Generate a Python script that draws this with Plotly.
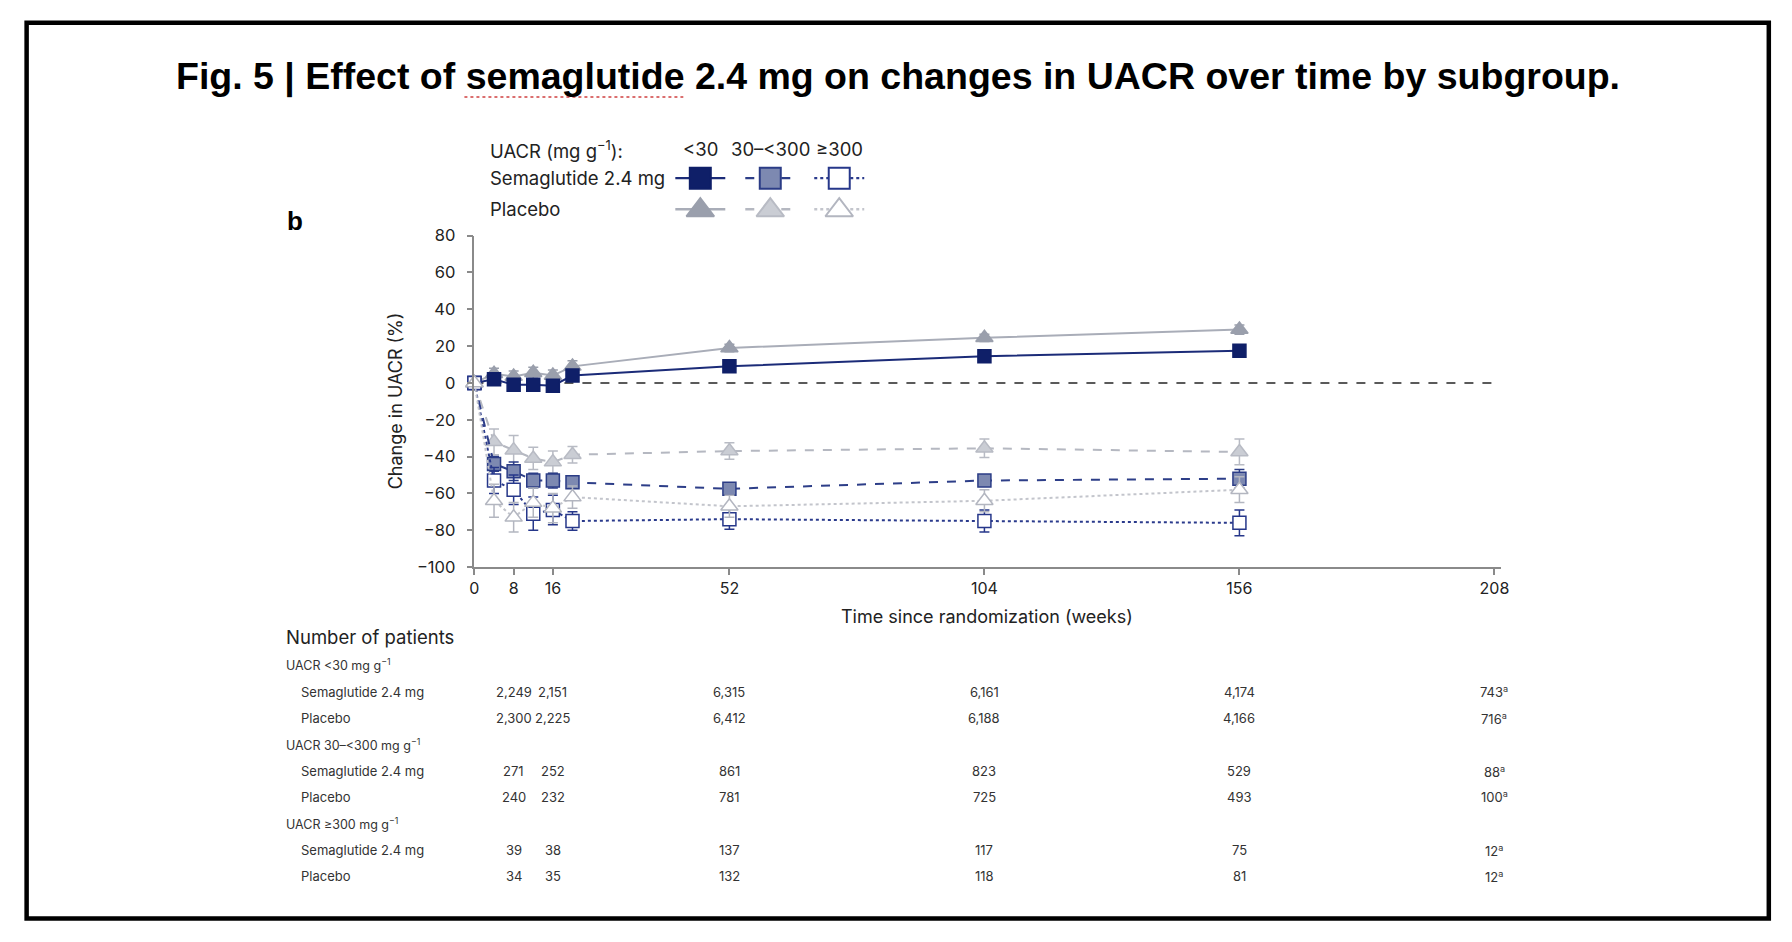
import plotly.graph_objects as go

# The page body has an 8px default margin, so the figure is 16px smaller than the window
PAGE_W, PAGE_H = 1792, 942
OFF = 8
W, H = PAGE_W - 2 * OFF, PAGE_H - 2 * OFF
FONT = "Inter"

# ---------------- data ----------------
weeks = [0, 4, 8, 12, 16, 20, 52, 104, 156]

sema_lt30 = [0, 2, -1, -1, -1.5, 4, 9, 14.5, 17.5]
sema_lt30_err = [0, 1.5, 1.5, 1.5, 1.5, 1.5, 1.5, 1.5, 2]
plac_lt30 = [0, 5, 3.5, 5.5, 4, 9, 19, 24.5, 29]
plac_lt30_err = [0, 3, 3, 3, 3, 3, 2, 2, 2.5]

sema_30_300 = [0, -44, -48, -53, -53, -54, -57.5, -53, -52]
sema_30_300_err = [0, 4, 5, 4, 4, 3, 2.5, 3, 5]
plac_30_300 = [0, -32, -36.5, -41, -43, -39, -37, -35.5, -37.5]
plac_30_300_err = [0, 7, 8, 6, 6, 4.5, 4.5, 5, 7]

sema_ge300 = [0, -53, -58, -71, -69, -75, -74, -75, -76]
sema_ge300_err = [0, 7, 8, 9, 8, 5, 5.5, 6, 7]
plac_ge300 = [0, -64, -73, -65, -68, -62, -67, -64, -58]
plac_ge300_err = [0, 9, 8, 8, 8, 6, 6, 6, 7]

x_ticks = [0, 8, 16, 52, 104, 156, 208]
y_ticks = [-100, -80, -60, -40, -20, 0, 20, 40, 60, 80]

table_weeks = [8, 16, 52, 104, 156, 208]
table_groups = ["UACR &lt;30 mg g<sup>−1</sup>",
                "UACR 30–&lt;300 mg g<sup>−1</sup>",
                "UACR ≥300 mg g<sup>−1</sup>"]
n_sema_lt30 = ["2,249", "2,151", "6,315", "6,161", "4,174", "743<sup>a</sup>"]
n_plac_lt30 = ["2,300", "2,225", "6,412", "6,188", "4,166", "716<sup>a</sup>"]
n_sema_30_300 = ["271", "252", "861", "823", "529", "88<sup>a</sup>"]
n_plac_30_300 = ["240", "232", "781", "725", "493", "100<sup>a</sup>"]
n_sema_ge300 = ["39", "38", "137", "117", "75", "12<sup>a</sup>"]
n_plac_ge300 = ["34", "35", "132", "118", "81", "12<sup>a</sup>"]

legend_cols = ["&lt;30", "30–&lt;300", "≥300"]

# ---------------- styles ----------------
NAVY = "#0f1f68"
# key: (arm, group) -> y, err, symbol, fill, edge, line colour, dash
styles = {
    ("Placebo", 0): (plac_lt30, plac_lt30_err, "triangle-up", "#9a9fac", "#9a9fac", "#a9adb8", "solid"),
    ("Semaglutide", 0): (sema_lt30, sema_lt30_err, "square", NAVY, NAVY, "#1b2b78", "solid"),
    ("Placebo", 1): (plac_30_300, plac_30_300_err, "triangle-up", "#cacdd4", "#b8bbc4", "#b5b8c1", "dash"),
    ("Semaglutide", 1): (sema_30_300, sema_30_300_err, "square", "#7d89b1", "#2b3c86", "#2d3e88", "dash"),
    ("Semaglutide", 2): (sema_ge300, sema_ge300_err, "square", "white", "#26378a", "#2a3a8c", "dot"),
    ("Placebo", 2): (plac_ge300, plac_ge300_err, "triangle-up", "white", "#b3b6c0", "#c3c5cc", "dot"),
}

# layout coordinates are given in reference-image pixels (A) and mapped to figure paper
KX, BX = 0.875 / 0.869, -3 / 0.869
KY, BY = 0.875 / 0.8535, -9.2 / 0.8535


def px(a):
    return (KX * a + BX - OFF) / W


def py(a):
    return 1 - (KY * a + BY - OFF) / H


# plot area in reference pixels
PL, PR, PT, PB = 473, 1500, 235.3, 565.7
XMAX = 208 * (PR - PL) / (1493.5 - PL)

fig = go.Figure()

for (arm, grp), (yv, ev, sym, fill, edge, lc, dash) in styles.items():
    fig.add_trace(go.Scatter(
        x=weeks, y=yv, name=f"{arm} {grp}", mode="lines+markers",
        line=dict(color=lc, width=2, dash=dash),
        marker=dict(symbol=sym, size=13 if sym == "square" else 15, color=fill,
                    line=dict(color=edge, width=1.5)),
        error_y=dict(type="data", array=ev, visible=True, color=edge, thickness=1.5, width=5),
        cliponaxis=False, showlegend=False, xaxis="x", yaxis="y",
    ))

# ---------------- legend (drawn in its own small axes, reference-pixel units) ----------------
leg_x = [699, 769, 838]
leg_rows = {"Semaglutide 2.4 mg": ("Semaglutide", 178), "Placebo": ("Placebo", 209)}
for i, col in enumerate(legend_cols):
    for row_name, (arm, ry) in leg_rows.items():
        _, _, sym, fill, edge, lc, dash = styles[(arm, i)]
        cx = leg_x[i]
        fig.add_trace(go.Scatter(
            x=[cx - 25, cx + 25], y=[ry, ry], mode="lines",
            line=dict(color=lc, width=2.4, dash=dash),
            showlegend=False, hoverinfo="skip", xaxis="x2", yaxis="y2"))
        fig.add_trace(go.Scatter(
            x=[cx], y=[ry + (1 if sym != "square" else 0)], mode="markers",
            marker=dict(symbol=sym, size=21 if sym == "square" else 24, color=fill,
                        line=dict(color=edge, width=2)),
            showlegend=False, hoverinfo="skip", xaxis="x2", yaxis="y2"))

annotations = []
LEG_FONT = dict(family=FONT, size=18.5, color="#222")
annotations.append(dict(text="UACR (mg g<sup>−1</sup>):", x=px(487), y=py(149), xref="paper", yref="paper",
                        xanchor="left", yanchor="middle", showarrow=False, font=LEG_FONT))
for i, col in enumerate(legend_cols):
    annotations.append(dict(text=col, x=px(leg_x[i]), y=py(149), xref="paper", yref="paper",
                            xanchor="center", yanchor="middle", showarrow=False, font=LEG_FONT))
for row_name, (arm, ry) in leg_rows.items():
    annotations.append(dict(text=row_name, x=px(487), y=py(ry), xref="paper", yref="paper",
                            xanchor="left", yanchor="middle", showarrow=False, font=LEG_FONT))

# title
annotations.append(dict(text="<b>Fig. 5 | Effect of semaglutide 2.4 mg on changes in UACR over time by subgroup.</b>",
                        x=px(897), y=py(77), xref="paper", yref="paper", xanchor="center", yanchor="middle",
                        showarrow=False, font=dict(family="Liberation Sans", size=37.5, color="black")))
# panel letter
annotations.append(dict(text="<b>b</b>", x=px(284), y=py(221), xref="paper", yref="paper",
                        xanchor="left", yanchor="middle", showarrow=False,
                        font=dict(family="Liberation Sans", size=26, color="black")))

# axis titles
annotations.append(dict(text="Change in UACR (%)", x=px(394), y=py(400), xref="paper", yref="paper",
                        xanchor="center", yanchor="middle", textangle=-90, showarrow=False,
                        font=dict(family=FONT, size=18, color="#222")))
annotations.append(dict(text="Time since randomization (weeks)", x=px(986), y=py(615), xref="paper",
                        yref="paper", xanchor="center", yanchor="middle", showarrow=False,
                        font=dict(family=FONT, size=18, color="#222")))

# ---------------- patient numbers table ----------------
annotations.append(dict(text="Number of patients", x=px(283), y=py(635.5), xref="paper", yref="paper",
                        xanchor="left", yanchor="middle", showarrow=False,
                        font=dict(family=FONT, size=18.5, color="#222")))
row_y = [663.2, 689.8, 716.5, 743.2, 769.2, 794.8, 821.5, 848.2, 874.2]
table_rows = [
    (table_groups[0], None), ("Semaglutide 2.4 mg", n_sema_lt30), ("Placebo", n_plac_lt30),
    (table_groups[1], None), ("Semaglutide 2.4 mg", n_sema_30_300), ("Placebo", n_plac_30_300),
    (table_groups[2], None), ("Semaglutide 2.4 mg", n_sema_ge300), ("Placebo", n_plac_ge300),
]
for (label, vals), ry in zip(table_rows, row_y):
    annotations.append(dict(text=label, x=px(283 if vals is None else 298), y=py(ry),
                            xref="paper", yref="paper", xanchor="left", yanchor="middle",
                            showarrow=False,
                            font=dict(family=FONT, size=12.5 if vals is None else 13, color="#333")))
    if vals is not None:
        for wk, v in zip(table_weeks, vals):
            annotations.append(dict(text=v, x=wk, y=py(ry), xref="x", yref="paper",
                                    xanchor="center", yanchor="middle", showarrow=False,
                                    font=dict(family=FONT, size=13, color="#333")))

shapes = [
    # outer frame
    dict(type="rect", xref="paper", yref="paper", x0=px(25), y0=py(23), x1=px(1768), y1=py(916),
         line=dict(color="black", width=4.5), layer="above"),
    # zero reference line
    dict(type="line", xref="x", yref="y", x0=0, x1=208, y0=0, y1=0,
         line=dict(color="#5a5a5a", width=2, dash="dash"), layer="below"),
    # spell-check underline in title
    dict(type="line", xref="paper", yref="paper", x0=px(463), x1=px(682), y0=py(97), y1=py(97),
         line=dict(color="#d04040", width=1.5, dash="dot")),
]

axis_col = "#8a8a8a"
fig.update_layout(
    width=W, height=H,
    margin=dict(l=0, r=0, t=0, b=0),
    paper_bgcolor="white", plot_bgcolor="white",
    showlegend=False,
    annotations=annotations,
    shapes=shapes,
    xaxis=dict(domain=[px(PL), px(PR)], range=[0, XMAX], tickvals=x_ticks,
               ticks="outside", ticklen=6, tickcolor=axis_col, tickwidth=1.5,
               showline=True, linecolor=axis_col, linewidth=1.5, showgrid=False, zeroline=False,
               tickfont=dict(family=FONT, size=16, color="#222")),
    yaxis=dict(domain=[py(PB), py(PT)], range=[-100, 80], tickvals=y_ticks,
               ticktext=[str(v).replace("-", "−") for v in y_ticks],
               ticks="outside", ticklen=6, tickcolor=axis_col, tickwidth=1.5,
               ticklabelstandoff=8,
               showline=True, linecolor=axis_col, linewidth=1.5, showgrid=False, zeroline=False,
               tickfont=dict(family=FONT, size=16.5, color="#222")),
    xaxis2=dict(domain=[px(600), px(900)], range=[600, 900], visible=False, fixedrange=True,
                anchor="y2"),
    yaxis2=dict(domain=[py(230), py(130)], range=[230, 130], visible=False, fixedrange=True,
                anchor="x2"),
)

fig.write_html("out.html")
